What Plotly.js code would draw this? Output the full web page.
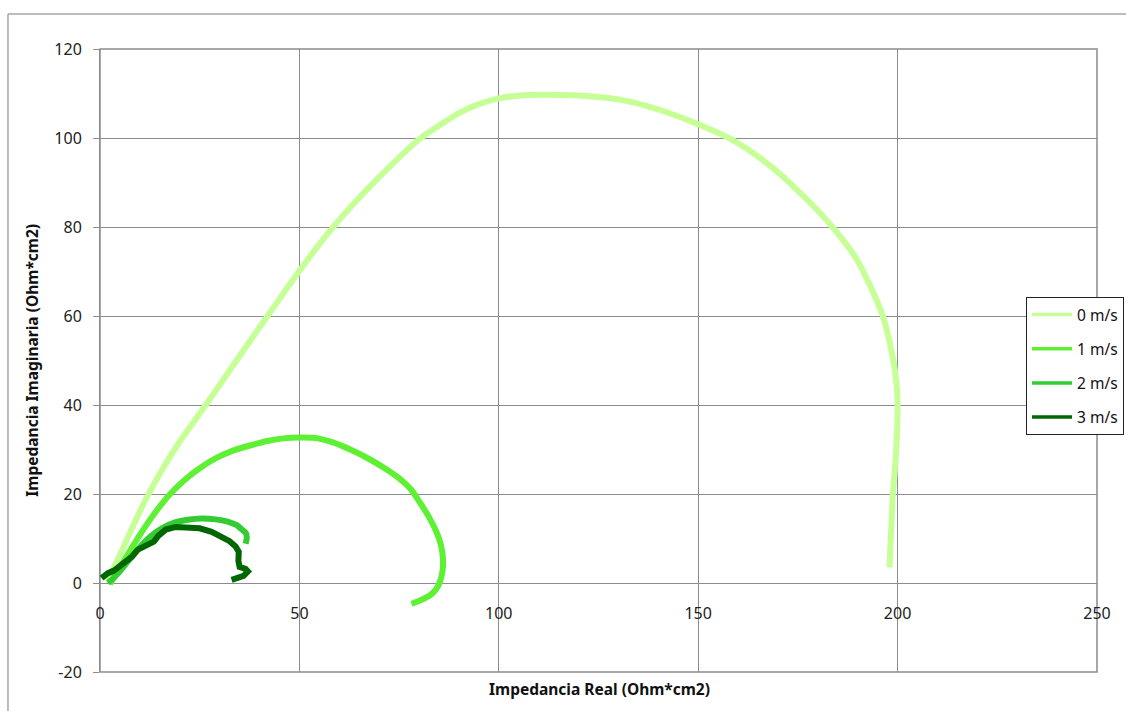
<!DOCTYPE html>
<html>
<head>
<meta charset="utf-8">
<script src="https://cdn.plot.ly/plotly-3.0.1.min.js"></script>
<style>
  html, body { margin: 0; padding: 0; background: #ffffff; }
  #chart { width: 1126px; height: 711px; }
</style>
</head>
<body>
<div id="chart"></div>
<script>
// Series names
const seriesNames = ["0 m/s", "1 m/s", "2 m/s", "3 m/s"];

// 0 m/s
const x0 = [2, 3, 4.5, 6.5, 9, 12, 16, 20, 24.6, 30, 36, 42, 47, 52, 56, 60, 64, 68, 72, 76, 80, 85, 90, 95, 100, 105, 111, 118, 125, 131, 137, 143, 150, 157.5, 162, 166.4, 171, 175.4, 179, 182.6, 186.3, 189.7, 193.2, 196.3, 198.5, 199.6, 200, 199.9, 199.6, 199.2, 198.8, 198.5, 198.2, 198];
const y0 = [0.5, 2.5, 5.4, 9.3, 14.2, 19.7, 26.1, 31.8, 37.6, 44.5, 52.3, 60, 66.4, 72.6, 77.3, 81.6, 85.6, 89.4, 93, 96.5, 99.7, 102.8, 105.6, 107.6, 108.9, 109.5, 109.7, 109.6, 109.2, 108.5, 107.2, 105.5, 103.1, 100.1, 97.7, 94.9, 91.5, 87.8, 84.6, 81.1, 77.1, 72.8, 66.6, 60, 52, 46, 40, 35, 29, 24, 20, 14, 8.5, 3.5];

// 1 m/s
const x1 = [2.5, 4.5, 7, 10, 13, 15.5, 18, 21, 25, 29.2, 33.5, 37.6, 42, 46, 50.1, 54, 58.4, 62.5, 66.8, 71, 75.2, 78, 80.2, 82.5, 84.4, 85.5, 86, 85.9, 85.2, 84.2, 82.7, 80.5, 78.1];
const y1 = [-0.2, 2.8, 6.5, 10.8, 14.8, 17.8, 20.4, 23, 25.8, 28.1, 29.8, 30.9, 31.9, 32.5, 32.7, 32.6, 31.6, 30.1, 28.2, 26, 23.4, 21, 18.1, 14.8, 11.4, 8.5, 5.4, 2.8, 0.2, -1.5, -2.8, -3.8, -4.7];

// 2 m/s
const x2 = [2, 3.5, 5.5, 8, 10.5, 13, 15.5, 18.5, 22, 25.5, 29, 32, 34.3, 35.6, 36.6, 36.8, 36.5];
const y2 = [0, 1.2, 3.2, 6, 8.6, 10.7, 12.3, 13.5, 14.2, 14.5, 14.3, 13.8, 13, 12, 11.2, 10.1, 8.8];

// 3 m/s
const x3 = [0.4, 2, 3.5, 5, 6.5, 8, 9.5, 11, 12.5, 13.5, 14.6, 16.5, 19, 22, 25, 28, 30.5, 32.5, 34, 34.8, 34.7, 35, 36.5, 37.1, 36, 34.5, 33];
const y3 = [1.1, 2.2, 2.8, 3.8, 4.8, 5.9, 7.5, 8.2, 9, 9.3, 10.6, 12, 12.6, 12.6, 12.3, 11.5, 10.5, 9.4, 8.2, 7, 5, 3.6, 3.2, 2.6, 1.6, 1, 0.7];

// Axis ticks
const xTicks = [0, 50, 100, 150, 200, 250];
const yTicks = [-20, 0, 20, 40, 60, 80, 100, 120];

const colors = ["#c6ff96", "#5ef032", "#33cc33", "#006600"];
const shapesLine = ["spline", "spline", "spline", "linear"];
const xs = [x0, x1, x2, x3];
const ys = [y0, y1, y2, y3];

const traces = xs.map((xv, i) => ({
  type: "scatter",
  mode: "lines",
  x: xv,
  y: ys[i],
  name: seriesNames[i],
  showlegend: false,
  line: { color: colors[i], width: 6, shape: shapesLine[i], smoothing: 0.6 },
  hoverinfo: "x+y+name"
}));

// legend-only entries (thinner legend swatches, no data drawn)
const legendTraces = seriesNames.map((n, i) => ({
  type: "scatter",
  mode: "lines",
  x: [null],
  y: [null],
  name: n,
  legendgroup: "g" + i,
  showlegend: true,
  line: { color: colors[i], width: 3.5 },
  hoverinfo: "skip"
}));

const gridC = "#8c8c8c";
const fontFam = "Noto Sans, Open Sans, sans-serif";

const layout = {
  width: 1126,
  height: 711,
  paper_bgcolor: "#ffffff",
  plot_bgcolor: "#ffffff",
  margin: { l: 100, r: 29, t: 49, b: 39, autoexpand: false },
  showlegend: true,
  legend: {
    x: 0.9288, y: 0.6019, xanchor: "left", yanchor: "top",
    bgcolor: "#ffffff", bordercolor: "#222222", borderwidth: 1,
    font: { family: fontFam, size: 15.5, color: "#111111" },
    itemwidth: 40,
    tracegroupgap: 11
  },
  xaxis: {
    range: [0, 250],
    tickvals: xTicks,
    ticktext: xTicks.map(String),
    anchor: "free",
    position: 20 / 140,
    showline: false,
    showgrid: true,
    gridcolor: gridC,
    gridwidth: 1,
    zeroline: false,
    ticks: "",
    ticklabelstandoff: 19,
    tickfont: { family: fontFam, size: 16, color: "#222222" },
    fixedrange: true
  },
  yaxis: {
    range: [-20, 120],
    tickvals: yTicks,
    ticktext: yTicks.map(String),
    showline: true,
    linecolor: gridC,
    linewidth: 1,
    showgrid: true,
    gridcolor: gridC,
    gridwidth: 1,
    zeroline: false,
    ticks: "outside",
    ticklen: 6,
    tickcolor: gridC,
    ticklabelstandoff: 8,
    tickfont: { family: fontFam, size: 16, color: "#222222" },
    fixedrange: true
  },
  shapes: [
    { type: "rect", xref: "paper", yref: "paper", x0: 0, x1: 1, y0: 0, y1: 1,
      line: { color: gridC, width: 1.5 }, fillcolor: "rgba(0,0,0,0)", layer: "below" },
    { type: "line", xref: "paper", yref: "paper", x0: -0.0923, x1: -0.0923, y0: -0.08, y1: 1.0562,
      line: { color: "#a6a6a6", width: 1.5 } },
    { type: "line", xref: "paper", yref: "paper", x0: -0.0923, x1: 1.05, y0: 1.0562, y1: 1.0562,
      line: { color: "#a6a6a6", width: 1.5 } }
  ],
  annotations: [
    { text: "<b>Impedancia Real (Ohm*cm2)</b>", xref: "paper", yref: "paper",
      x: 0.5015, y: -0.0273, xanchor: "center", yanchor: "middle", showarrow: false,
      font: { family: fontFam, size: 15.5, color: "#111111" } },
    { text: "<b>Impedancia Imaginaria (Ohm*cm2)</b>", xref: "paper", yref: "paper",
      x: -0.069, y: 0.5, xanchor: "center", yanchor: "middle", showarrow: false, textangle: -90,
      font: { family: fontFam, size: 15.5, color: "#111111" } }
  ]
};

Plotly.newPlot("chart", traces.concat(legendTraces), layout, { displayModeBar: false, staticPlot: true });
</script>
</body>
</html>
